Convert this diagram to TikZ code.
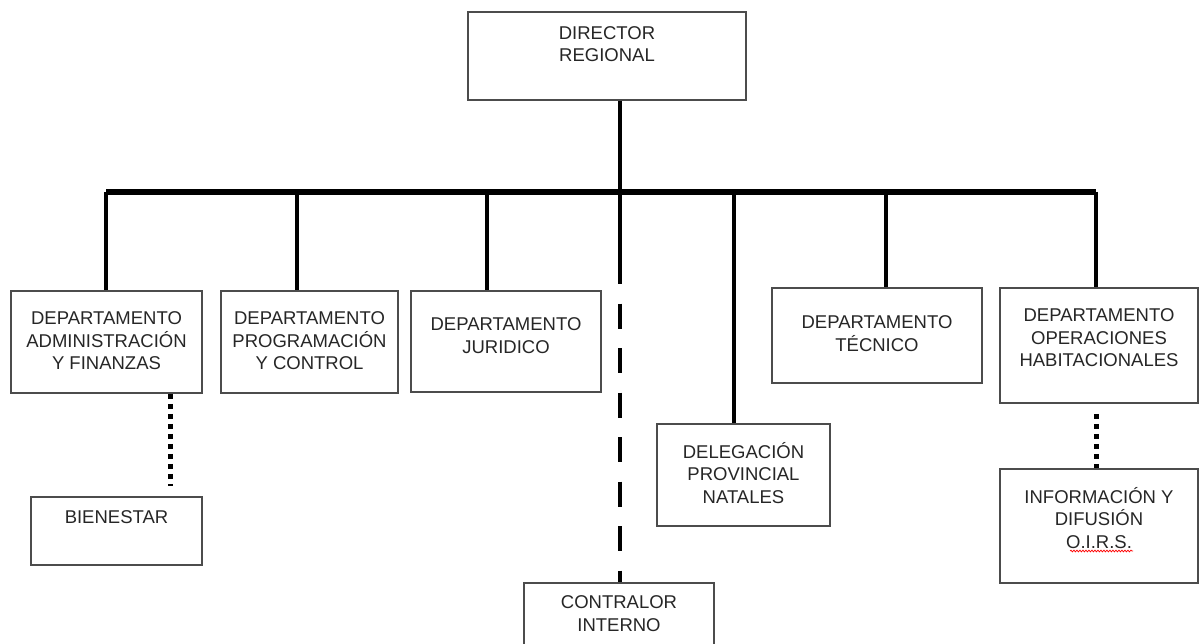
\documentclass[tikz,border=0pt]{standalone}
\usepackage{fontspec}
\setmainfont{Liberation Sans}
\usetikzlibrary{decorations.pathmorphing}

\tikzset{
  unit/.style={draw=black!70,line width=1.5pt,inner sep=0pt},
  txt/.style={align=center,text=black!85,font=\fontsize{18.5}{22.5}\selectfont},
  stem/.style={line width=4.5pt},
  bus/.style={line width=6pt},
  aux/.style={line width=5pt,dash pattern=on 5pt off 5pt},
  staff/.style={line width=4.5pt,dash pattern=on 25pt off 19.5pt,dash phase=25pt},
  spell/.style={red,line width=0.7pt,decorate,decoration={snake,amplitude=0.9pt,segment length=3pt}}
}

\begin{document}
\begin{tikzpicture}[x=1pt,y=-1pt]
\useasboundingbox (0,0) rectangle (1199,644);

% cajas
\node[unit,minimum width=278,minimum height=88,label={[txt,yshift=12pt]center:DIRECTOR\\REGIONAL}] (dir) at (607,56) {};
\node[unit,minimum width=191,minimum height=102,label={[txt,yshift=1pt]center:DEPARTAMENTO\\ADMINISTRACIÓN\\Y FINANZAS}] (adm) at (106.5,342) {};
\node[unit,minimum width=177,minimum height=102,label={[txt,yshift=1pt]center:DEPARTAMENTO\\PROGRAMACIÓN\\Y CONTROL}] (prog) at (309.5,342) {};
\node[unit,minimum width=190,minimum height=101,label={[txt,yshift=6pt]center:DEPARTAMENTO\\JURIDICO}] (jur) at (506,341.5) {};
\node[unit,minimum width=173,minimum height=102,label={[txt,yshift=2pt]center:DELEGACIÓN\\PROVINCIAL\\NATALES}] (del) at (743.5,475) {};
\node[unit,minimum width=210,minimum height=95,label={[txt,yshift=2pt]center:DEPARTAMENTO\\TÉCNICO}] (tec) at (877,335.5) {};
\node[unit,minimum width=198,minimum height=115,label={[txt,yshift=7.5pt]center:DEPARTAMENTO\\OPERACIONES\\HABITACIONALES}] (ope) at (1099,345.5) {};
\node[unit,minimum width=171,minimum height=68,label={[txt,yshift=14pt]center:BIENESTAR}] (bien) at (116.5,531) {};
\node[unit,minimum width=198,minimum height=114,label={[txt,yshift=8pt]center:INFORMACIÓN Y\\DIFUSIÓN\\O.I.R.S.}] (inf) at (1099,526) {};
\node[unit,minimum width=190,minimum height=82,label={[txt,yshift=10.5pt]center:CONTRALOR\\INTERNO}] (ctrl) at (619,624) {};

% barra
\coordinate (hub) at (620,192);
\coordinate (adm-j) at (106,192);
\coordinate (prog-j) at (297,192);
\coordinate (jur-j) at (487,192);
\coordinate (del-j) at (734,192);
\coordinate (tec-j) at (886,192);
\coordinate (ope-j) at (1096,192);
\coordinate (ctrl-j) at (620,284);
\coordinate (bien-j) at (170,393);

\draw[stem] (dir.south -| hub) -- (hub);
\draw[bus] (adm-j) -- (ope-j);
\draw[stem] (adm-j) -- (adm-j |- adm.north);
\draw[stem] (prog-j) -- (prog-j |- prog.north);
\draw[stem] (jur-j) -- (jur-j |- jur.north);
\draw[stem] (del-j) -- (del-j |- del.north);
\draw[stem] (tec-j) -- (tec-j |- tec.north);
\draw[stem] (ope-j) -- (ope-j |- ope.north);
\draw[stem] (hub) -- (ctrl-j);
\draw[staff] (ctrl-j) -- (ctrl-j |- ctrl.north);

% dependencias
\draw[aux,shorten >=10pt] (adm.south -| bien-j) -- (bien.north -| bien-j);
\draw[aux,shorten <=10pt] (ope.south -| ope-j) -- (inf.north -| ope-j);

\draw[spell] (1070,551) -- (1133,551);
\end{tikzpicture}
\end{document}
